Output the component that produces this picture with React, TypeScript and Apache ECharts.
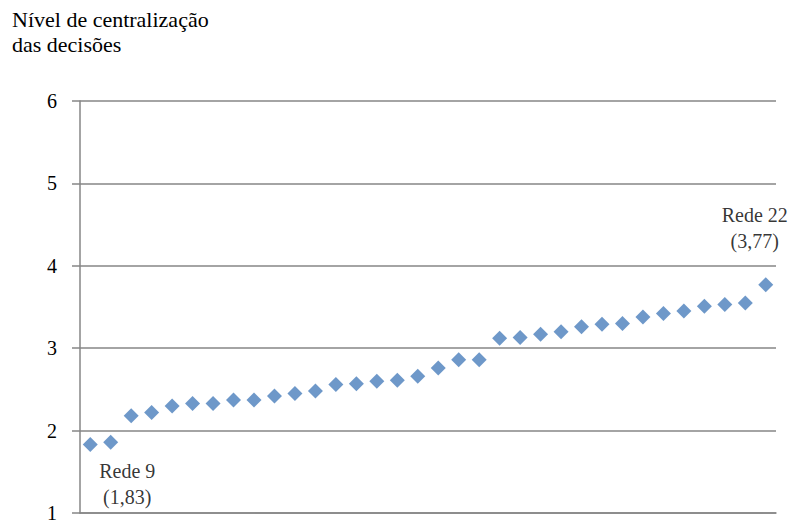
import React, { useEffect, useRef } from "react";
import * as echarts from "echarts";

const categories: string[] = Array.from({ length: 34 }, (_, i) => String(i + 1));
const values: number[] = [
  1.83, 1.86, 2.18, 2.22, 2.3, 2.33, 2.33, 2.37, 2.37, 2.42, 2.45, 2.48,
  2.56, 2.57, 2.6, 2.61, 2.66, 2.76, 2.86, 2.86, 3.12, 3.13, 3.17, 3.2,
  3.26, 3.29, 3.3, 3.38, 3.42, 3.45, 3.51, 3.53, 3.55, 3.77,
];
const yTicks = { min: 1, max: 6, interval: 1 };
const titleLines = ["Nível de centralização", "das decisões"];
const firstLabel = "Rede 9\n(1,83)";
const lastLabel = "Rede 22\n(3,77)";

const FONT = "Liberation Serif";
const GRAY = "#868686";

export default function App() {
  const ref = useRef<HTMLDivElement>(null);
  useEffect(() => {
    if (!ref.current) return;
    const chart = echarts.init(ref.current, undefined, { renderer: "svg", width: 792, height: 523 });
    const last = values.length - 1;
    const labelStyle = {
      show: true,
      color: "#000000",
      fontFamily: FONT,
      fontSize: 20,
      lineHeight: 26,
      align: "center",
    };
    const data = values.map((v, i) => {
      if (i === 0) {
        return {
          value: v,
          label: { ...labelStyle, position: "bottom", offset: [37, 1], formatter: firstLabel },
        };
      }
      if (i === last) {
        return {
          value: v,
          label: { ...labelStyle, position: "top", offset: [-11, -18], formatter: lastLabel },
        };
      }
      return v;
    });
    chart.setOption({
      animation: false,
      backgroundColor: "#ffffff",
      grid: { left: 80, right: 16, top: 101, height: 418, containLabel: false },
      graphic: [
        {
          type: "text",
          left: 12,
          top: 7,
          style: {
            text: titleLines.join("\n"),
            fontFamily: FONT,
            fontSize: 22,
            lineHeight: 25,
            fill: "#000000",
          },
        },
      ],
      xAxis: {
        type: "category",
        data: categories,
        boundaryGap: true,
        axisLine: { show: true, lineStyle: { color: GRAY, width: 1.5 } },
        axisTick: { show: false },
        axisLabel: { show: false },
        splitLine: { show: false },
      },
      yAxis: {
        type: "value",
        min: yTicks.min,
        max: yTicks.max,
        interval: yTicks.interval,
        axisLine: { show: true, lineStyle: { color: GRAY, width: 1.5 } },
        axisTick: { show: true, length: 8, lineStyle: { color: GRAY, width: 1.5 } },
        axisLabel: {
          margin: 23,
          color: "#000000",
          fontFamily: FONT,
          fontSize: 20,
        },
        splitLine: { show: true, lineStyle: { color: GRAY, width: 1.5 } },
      },
      series: [
        {
          type: "scatter",
          symbol: "diamond",
          symbolSize: 15,
          itemStyle: { color: "#4a7ebb" },
          label: { show: false },
          data,
        },
      ],
    });
    return () => chart.dispose();
  }, []);
  return (
    <div
      ref={ref}
      style={{ position: "fixed", left: 0, top: 0, width: 792, height: 523, background: "#fff" }}
    />
  );
}
